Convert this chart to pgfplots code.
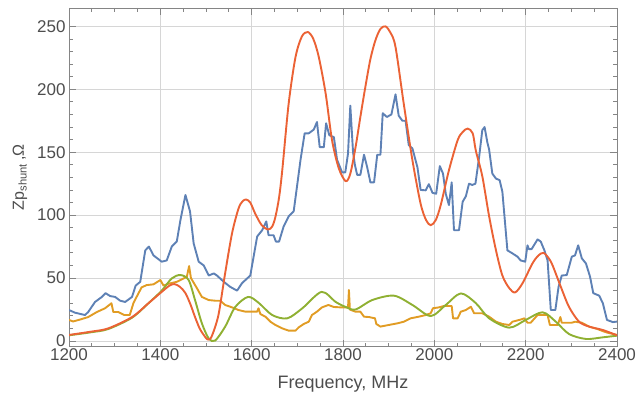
\documentclass[border=0pt]{standalone}
\usepackage{fontspec}
\setmainfont{Liberation Sans}
\usepackage{pgfplots}
\pgfplotsset{compat=1.18}
\definecolor{mblue}{HTML}{5E81B5}
\definecolor{mred}{HTML}{EB6235}
\definecolor{morange}{HTML}{E19C24}
\definecolor{mgreen}{HTML}{8FB032}
\definecolor{tickgray}{HTML}{4D4D4D}
\definecolor{framegray}{HTML}{858585}
\definecolor{gridgray}{HTML}{D6D6D6}
\begin{document}
\begin{tikzpicture}
\begin{axis}[
  scale only axis, width=548pt, height=338.5pt,
  xmin=1200, xmax=2400, ymin=-4.4, ymax=264.6,
  xtick={1200,1400,...,2400}, ytick={0,50,...,250},
  minor x tick num=3, minor y tick num=4,
  tick align=inside, major tick length=7pt, minor tick length=4pt,
  grid=major, major grid style={gridgray, line width=0.8pt},
  axis line style={framegray, line width=0.9pt},
  tick style={framegray, line width=0.8pt},
  ticklabel style={font=\fontsize{17}{20}\selectfont, text=tickgray},
  /pgf/number format/assume math mode=true,
  /pgf/number format/1000 sep={},
  xticklabel style={yshift=1pt},
  xlabel={Frequency, MHz},
  xlabel style={at={(axis description cs:0.5,0)}, anchor=center, yshift=-38pt, font=\fontsize{18}{21}\selectfont, text=tickgray},
  ylabel={Zp\textsubscript{shunt}\,,Ω},
  ylabel style={at={(axis description cs:-0.0894,0.5)}, anchor=center, font=\fontsize{16}{19}\selectfont, text=tickgray},
  every axis plot/.append style={line width=1.9pt, line join=round},
]
\addplot[mblue] coordinates {
(1200,24.6)(1213,22.5)(1235,20.6)(1242,23)(1257,31)(1272,35)(1280,38)(1290,35.7)(1301,35)(1312,32)(1323,31)(1338,35)(1346,44)(1356,47)(1367,72)(1375,75)(1385,68)(1403,63)(1414,64)(1425,75)(1436,79)(1444,96)(1455,116)(1465,103)(1473,77.5)(1484,63)(1495,60)(1506,52)(1517,53.7)(1524,52)(1539,47)(1553,43)(1568,40)(1579,46)(1597,52)(1612,83)(1623,88)(1632,95)(1637,84)(1648,84)(1653,79)(1660,79)(1670,91)(1681,99)(1692,103)(1699,122)(1707,144)(1716,165)(1725,165)(1736,168)(1743,174)(1749,154)(1758,154)(1763,173)(1770,163.5)(1780,162)(1787,144)(1798,134)(1805,134)(1811,149)(1816,187)(1822,150)(1826,140)(1831,132)(1838,132)(1846,148)(1853,138)(1860,126)(1868,126)(1875,148)(1882,148)(1887,181)(1896,178)(1906,180)(1915,196)(1922,179)(1930,175)(1937,175)(1944,155.6)(1952,153)(1963,138)(1970,120)(1981,119.7)(1988,124.6)(1996,117.7)(2004,117)(2012,139)(2019,133)(2025,117)(2032,108)(2038,126)(2043,88)(2054,88)(2062,110.6)(2069,115)(2076,125)(2083,124)(2090,125)(2098,146)(2105,167.5)(2110,170)(2116,158)(2120,152)(2127,133)(2135,129)(2143,127.8)(2149,118.5)(2160,72)(2171,69.6)(2182,67)(2189,64)(2199,63)(2204,76)(2207,73)(2213,73)(2226,80.7)(2233,79)(2241,72)(2248,64)(2255,24.6)(2265,24.6)(2272,43)(2279,52)(2290,52.4)(2301,67)(2308,68)(2315,76)(2323,65.6)(2332,61.6)(2341,51)(2348,38)(2361,36)(2369,30)(2378,16.7)(2391,15)(2400,15.4)
};
\addplot[morange] coordinates {
(1200,16.7)(1209,15.5)(1224,17)(1242,19)(1261,23)(1279,26)(1293,30)(1297,23)(1308,23)(1321,20.6)(1333,20.6)(1341,30)(1348,35)(1359,42.6)(1370,44.4)(1385,45)(1400,48.4)(1407,44)(1418,45.5)(1436,47)(1451,49.7)(1458,51)(1463,59.5)(1467,50)(1480,42)(1491,35)(1506,32.5)(1520,32)(1531,32)(1542,28.6)(1557,26.7)(1571,24.6)(1586,23.3)(1612,23.3)(1615,26)(1619,21.4)(1630,19.3)(1641,15.3)(1652,12.7)(1667,10)(1681,8.2)(1696,8.2)(1703,10.8)(1714,13.5)(1725,15.3)(1732,20.6)(1743,23.3)(1754,26.7)(1768,28.6)(1780,27)(1795,26.7)(1811,26.7)(1813,40.5)(1815,25)(1827,23.3)(1838,23.3)(1846,19.3)(1857,19)(1870,18)(1873,13.5)(1882,11.4)(1900,12.7)(1919,14)(1933,15.3)(1948,18)(1966,19.3)(1981,20.6)(1992,22)(1997,26)(2010,26.7)(2021,27.8)(2038,27.8)(2041,18)(2051,18)(2058,23.3)(2069,24.6)(2080,27.2)(2087,22)(2105,22)(2120,19.3)(2135,15.3)(2149,13.5)(2164,12.7)(2171,15.3)(2189,17)(2197,18)(2204,14.5)(2211,14.5)(2226,20.6)(2248,20.6)(2253,12.7)(2270,12.7)(2276,19)(2279,14.5)(2301,14.5)(2308,15.3)(2323,14.5)(2339,11.4)(2357,9.5)(2372,7.4)(2380,6.5)(2400,4.8)
};
\addplot[mgreen, smooth] coordinates {
(1200,4.5)(1250,7)(1286,9.5)(1338,18.5)(1374,30)(1403,40)(1425,49.7)(1444,52.4)(1462,48.4)(1476,32.5)(1491,14)(1506,2)(1520,0.3)(1542,11.4)(1564,27)(1592,35)(1615,30.4)(1645,20.6)(1678,18)(1711,26)(1753,39)(1784,31)(1806,27)(1827.5,25)(1864,32.5)(1911.5,36)(1952,28.6)(1992,19.8)(2025,28.6)(2058,37.8)(2091,30)(2120,18)(2164,10.6)(2200,16.7)(2237,22.8)(2266,15.3)(2295,5.5)(2332,1.6)(2369,2.9)(2400,4.2)
};
\addplot[mred, smooth] coordinates {
(1200,4.8)(1250,7.5)(1286,10)(1338,19)(1374,30)(1403,39)(1420,44)(1431,45.2)(1443,43)(1455,38)(1466,29)(1476,19)(1486,10)(1495,4.8)(1503,1.3)(1510,2)(1518,9)(1528,22)(1542,54)(1557,85.5)(1571,105)(1580,111)(1588,112.4)(1597,110)(1608,101)(1622,92)(1636,88.6)(1645,91)(1652,98.6)(1660,114)(1667,135.7)(1681,188.6)(1696,225.6)(1710,242)(1723,245.5)(1735,240)(1747,225.6)(1762,196.6)(1776,159.5)(1791,137)(1806,127)(1816,133)(1827.5,154)(1838,178)(1849,202)(1860,224)(1871,239)(1882,248)(1893,250)(1904,245)(1915,233.6)(1933,188.6)(1952,143.7)(1970,109)(1982,96)(1992,92)(2003,96)(2014,108)(2032,135.7)(2051,159.5)(2062,166)(2073,168.8)(2084,165)(2091,151)(2105,131)(2120,99)(2135,72)(2149,52)(2164,42)(2177,38.6)(2193,45.8)(2215,61.7)(2228,68)(2239,70)(2250,66)(2259,60)(2277,43)(2295,27)(2317,15.3)(2339,11.4)(2369,8.7)(2400,4.5)
};
\end{axis}
\pgfresetboundingbox
\path[use as bounding box] (-69pt,-50.5pt) rectangle (567pt,346.5pt);
\end{tikzpicture}
\end{document}
